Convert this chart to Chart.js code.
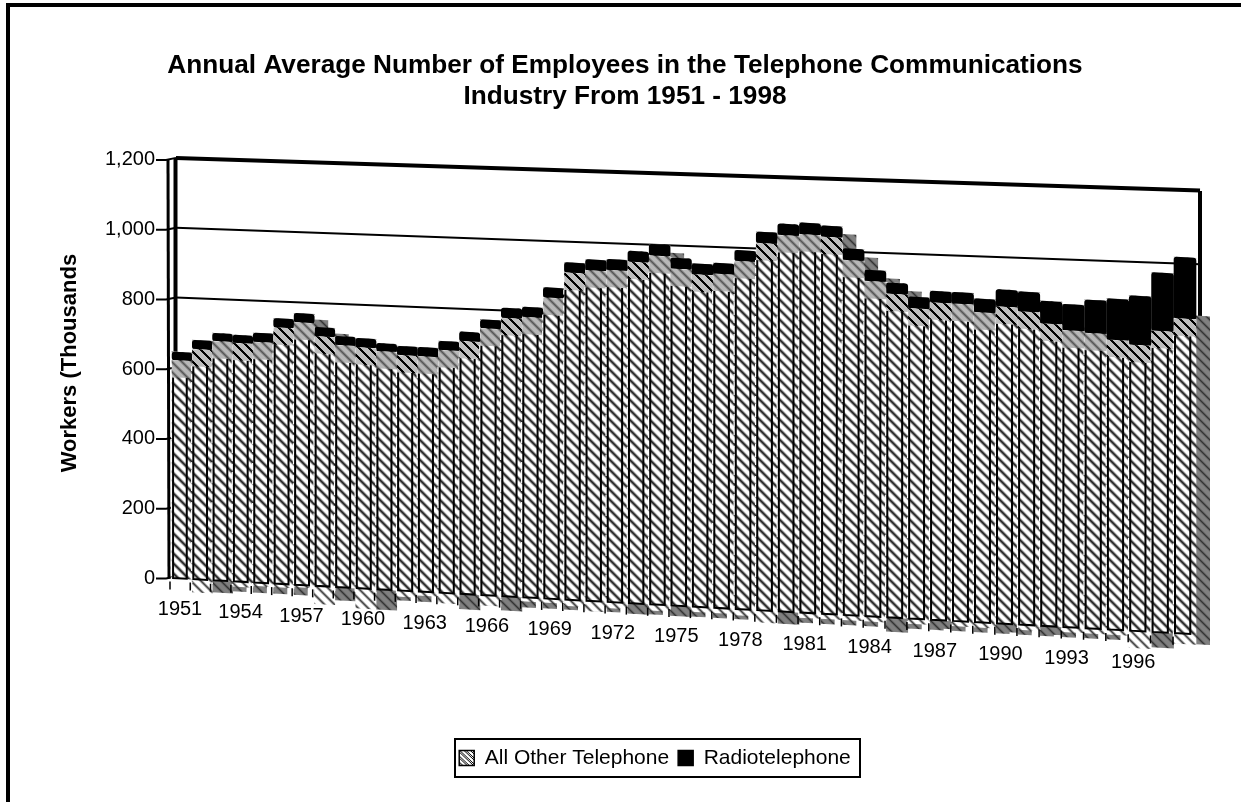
<!DOCTYPE html>
<html>
<head>
<meta charset="utf-8">
<title>Telephone Communications Employees</title>
<script src="https://cdn.jsdelivr.net/npm/chart.js@4"></script>
<style>
    body { margin: 0; background: #fff; }
    canvas { display: block; }
</style>
</head>
<body>
<canvas id="phoneChart" width="1241" height="802"></canvas>
<script>
const years = [1951, 1952, 1953, 1954, 1955, 1956, 1957, 1958, 1959, 1960, 1961, 1962, 1963, 1964, 1965, 1966,
    1967, 1968, 1969, 1970, 1971, 1972, 1973, 1974, 1975, 1976, 1977, 1978, 1979, 1980, 1981, 1982,
    1983, 1984, 1985, 1986, 1987, 1988, 1989, 1990, 1991, 1992, 1993, 1994, 1995, 1996, 1997, 1998];
const allOther = [624, 659, 685, 683, 689, 734, 752, 715, 693, 690, 682, 674, 674, 695, 724, 764,
    797, 803, 862, 937, 947, 951, 978, 999, 965, 952, 957, 997, 1052, 1078, 1084, 1080,
    1017, 960, 927, 889, 909, 909, 888, 908, 897, 866, 850, 846, 830, 819, 863, 902];
const radiotelephone = [24, 26, 23, 23, 26, 26, 26, 26, 26, 26, 23, 26, 26, 26, 27, 25,
    29, 29, 29, 29, 31, 31, 31, 33, 31, 31, 31, 31, 32, 33, 33, 32,
    33, 32, 32, 33, 33, 33, 39, 49, 57, 65, 75, 95, 118, 141, 167, 176];
// the floor slab that shows below the zero line, light and dark hatch
const floorLight = [0, -37, 0, -14, -9, -9, -6, -51, 0, -57, 0, -17, -11, -29, 0, -29,
    0, -11, -11, -17, -29, -17, 0, -17, 0, -14, -14, -17, -34, 0, -14, -14,
    -14, -14, 0, -14, 0, -14, -14, 0, -14, 0, -14, -14, -14, -48, 0, -29];
const floorDark = [0, 0, -34, 0, 0, 0, 0, 0, -37, 0, -57, 0, 0, 0, -43, 0,
    -40, 0, 0, 0, 0, 0, -29, 0, -29, 0, 0, 0, 0, -34, 0, 0,
    0, 0, -40, 0, -23, 0, 0, -23, 0, -23, 0, 0, 0, 0, -43, 0];
const tickLabels = [1951, 1954, 1957, 1960, 1963, 1966, 1969, 1972, 1975, 1978, 1981, 1984, 1987, 1990, 1993, 1996];

// years whose top face comes out light with black stripes
const lightCapYears = [1952, 1954, 1956, 1958, 1960, 1962, 1965, 1967, 1970, 1973, 1976, 1979, 1982, 1985,
    1986, 1987, 1990, 1991, 1992, 1995, 1996, 1997, 1998];

const plotLeft = 182;
const floorSlope = 0.055;   // front row of columns runs downhill
const capHeight = 17;

//* PIXEL PATTERNS
function makePattern(colors) {
    const size = colors.length;
    const tile = document.createElement('canvas');
    tile.width = size;
    tile.height = size;
    const tileCtx = tile.getContext('2d');
    for (let y = 0; y < size; y++) {
        for (let x = 0; x < size; x++) {
            tileCtx.fillStyle = colors[(x - y + size) % size];
            tileCtx.fillRect(x, y, 1, 1);
        }
    }
    const pattern = tileCtx.createPattern(tile, 'repeat');
    // cancel the shear so the stripes stay on the pixel grid
    pattern.setTransform(new DOMMatrix([1, -floorSlope, 0, 1, 0, floorSlope * plotLeft]));
    return pattern;
}

const bodyHatch = makePattern(['#222', '#555', '#a8a8a8', '#f0f0f0', '#fff', '#fff', '#fff', '#f0f0f0', '#a8a8a8', '#555']);
const capLight = makePattern(['#000', '#000', '#000', '#bdbdbd', '#bdbdbd', '#bdbdbd', '#bdbdbd', '#bdbdbd', '#bdbdbd', '#bdbdbd']);
const capDark = makePattern(['#555', '#777', '#9a9a9a', '#b8b8b8', '#b8b8b8', '#b8b8b8', '#b8b8b8', '#b8b8b8', '#9a9a9a', '#777']);
const sideHatch = makePattern(['#333', '#555', '#737373', '#808080', '#808080', '#808080', '#808080', '#808080', '#737373', '#555']);
const floorHatch = makePattern(['#444', '#7f7f7f', '#cfcfcf', '#fff', '#fff', '#fff', '#fff', '#fff', '#cfcfcf', '#7f7f7f']);
const legendSwatch = makePattern(['#000', '#fff', '#fff', '#fff', '#000', '#fff']);

function shear(ctx) {
    ctx.transform(1, floorSlope, 0, 1, 0, -floorSlope * plotLeft);
}

//* SCALE WHERE THE YEARS SPREAD OUT TOWARD THE VIEWER
class RecedingScale extends Chart.CategoryScale {
    getPixelForDecimal(decimal) {
        return super.getPixelForDecimal(decimal + 0.0526 * decimal * (decimal - 1));
    }
}
RecedingScale.id = 'receding';
RecedingScale.defaults = Chart.CategoryScale.defaults;
Chart.register(RecedingScale);

//* BACK WALL, SIDE FACES, TOP FACES, OUTLINES
const wallPlugin = {
    id: 'wall',
    beforeDraw(chart) {
        const ctx = chart.ctx;
        ctx.save();
        ctx.fillStyle = '#fff';
        ctx.fillRect(0, 0, chart.width, chart.height);
        ctx.fillStyle = '#000';
        ctx.fillRect(6, 3, chart.width - 6, 4);
        ctx.fillRect(6, 3, 4, chart.height - 3);
        ctx.restore();
    },
    afterLayout(chart) {
        // legend sits right of the title centre
        chart.legend.left += 30;
        chart.legend.right += 30;
    },
    beforeDatasetsDraw(chart) {
        const ctx = chart.ctx;
        const yScale = chart.scales.y;
        const wallLeft = 176;
        const wallRight = 1200;
        ctx.save();
        ctx.strokeStyle = '#000';
        yScale.ticks.forEach(tick => {
            const py = yScale.getPixelForValue(tick.value);
            const slope = floorSlope - (tick.value / 1200) * 0.0232;
            const isTop = tick.value === 1200;
            ctx.lineWidth = 2;
            ctx.beginPath();
            ctx.moveTo(156, py);
            ctx.lineTo(166, py);
            ctx.lineTo(wallLeft, py - 2);
            ctx.stroke();
            if (tick.value === 0) {
                return;
            }
            ctx.lineWidth = isTop ? 4 : 2;
            ctx.beginPath();
            ctx.moveTo(wallLeft, py - 2);
            ctx.lineTo(wallRight, py - 2 + slope * (wallRight - wallLeft));
            ctx.stroke();
        });
        // double upright at the left, single at the right
        const top = yScale.getPixelForValue(1200);
        const bottom = yScale.getPixelForValue(0);
        ctx.lineWidth = 3;
        ctx.beginPath();
        ctx.moveTo(168, top);
        ctx.lineTo(169, bottom);
        ctx.stroke();
        ctx.lineWidth = 4;
        ctx.beginPath();
        ctx.moveTo(175.5, top - 2);
        ctx.lineTo(175.5, bottom);
        ctx.moveTo(1200, top + 31);
        ctx.lineTo(1200, top + 170);
        ctx.stroke();

        shear(ctx);
        ctx.fillStyle = sideHatch;
        chart.getDatasetMeta(0).data.forEach(bar => {
            const right = bar.x + bar.width / 2;
            ctx.fillRect(right, bar.y - 4, 14, bar.base - bar.y + 14);
        });
        ctx.restore();

        ctx.save();
        shear(ctx);
    },
    afterDatasetsDraw(chart) {
        const ctx = chart.ctx;
        const bars = chart.getDatasetMeta(0).data;
        ctx.strokeStyle = '#000';
        bars.forEach((bar, i) => {
            const left = bar.x - bar.width / 2;
            const capBottom = bar.y + capHeight;
            // gap between outlines
            ctx.strokeStyle = '#fff';
            ctx.lineWidth = 1.5;
            ctx.setLineDash([5, 3]);
            ctx.beginPath();
            ctx.moveTo(left - 0.5, capBottom);
            ctx.lineTo(left - 0.5, bar.base + 4);
            ctx.stroke();
            ctx.setLineDash([]);
            // front face
            ctx.strokeStyle = '#000';
            ctx.lineWidth = 2;
            ctx.beginPath();
            ctx.moveTo(left + 1, capBottom);
            ctx.lineTo(left + 1, bar.base);
            ctx.lineTo(left + bar.width * 0.74, bar.base);
            ctx.lineTo(left + bar.width * 0.74, capBottom);
            ctx.stroke();
            // top face
            ctx.fillStyle = lightCapYears.includes(years[i]) ? capLight : capDark;
            ctx.fillRect(left, bar.y, bar.width, capHeight);
        });
        ctx.restore();

        // years and tick marks follow the sloping floor
        ctx.save();
        ctx.strokeStyle = '#000';
        ctx.fillStyle = '#000';
        ctx.lineWidth = 1.5;
        ctx.font = '20px "Liberation Sans"';
        ctx.textAlign = 'center';
        ctx.textBaseline = 'middle';
        const xScale = chart.scales.x;
        const yBase = chart.scales.y.getPixelForValue(0);
        years.forEach((year, i) => {
            const x = xScale.getPixelForValue(i);
            const floorY = yBase + floorSlope * (x - plotLeft);
            ctx.beginPath();
            ctx.moveTo(x - 12, floorY + 3);
            ctx.lineTo(x - 12, floorY + 11);
            ctx.stroke();
            if (tickLabels.includes(year)) {
                ctx.fillText(year, x - 2 - 5 * i / 45, floorY + 31);
            }
        });
        ctx.restore();

        // box round the legend
        const boxes = chart.legend.legendHitBoxes;
        ctx.save();
        ctx.strokeStyle = '#000';
        ctx.lineWidth = 2;
        ctx.strokeRect(455, boxes[0].top - 8.5, 405, 38);
        ctx.restore();
    }
};

const commonBar = {
    barThickness: 'flex',
    categoryPercentage: 1,
    barPercentage: 0.98,
    clip: false,
    borderWidth: 0
};

//* MAIN CHART
const phoneChart = new Chart(document.getElementById('phoneChart'), {
    type: 'bar',
    data: {
        labels: years,
        datasets: [
            { label: 'All Other Telephone', data: allOther, backgroundColor: bodyHatch, ...commonBar },
            { label: 'Radiotelephone', data: radiotelephone, backgroundColor: '#000', borderRadius: 3, borderSkipped: false, ...commonBar },
            { label: 'floor', data: floorLight, backgroundColor: floorHatch, ...commonBar },
            { label: 'floor dark', data: floorDark, backgroundColor: sideHatch, ...commonBar }
        ]
    },
    plugins: [wallPlugin],
    options: {
        responsive: false,
        animation: false,
        layout: { padding: { left: 65, right: 56, top: 0, bottom: 23.5 } },
        scales: {
            x: {
                type: 'receding',
                stacked: true,
                offset: false,
                grid: { display: false },
                border: { display: false },
                ticks: { display: false },
                afterFit(scale) { scale.height = 160; }
            },
            y: {
                stacked: true,
                min: 0,
                max: 1200,
                grid: { display: false },
                border: { display: false },
                afterFit(scale) { scale.width = 117; },
                title: {
                    display: true,
                    text: '  Workers (Thousands',   // leading spaces push it up the axis
                    color: '#000',
                    padding: { top: -8, bottom: 0 },
                    font: { family: '"Liberation Sans"', size: 22, weight: 'bold' }
                },
                ticks: {
                    stepSize: 200,
                    padding: 19,
                    color: '#000',
                    font: { family: '"Liberation Sans"', size: 20 },
                    callback: value => value.toLocaleString('en-US')
                }
            }
        },
        plugins: {
            tooltip: { enabled: false },
            title: {
                display: true,
                text: ['Annual Average Number of Employees in the Telephone Communications', 'Industry From 1951 - 1998'],
                color: '#000',
                padding: { top: 50, bottom: 47 },
                font: { family: '"Liberation Sans"', size: 26.2, weight: 'bold', lineHeight: 1.2 }
            },
            legend: {
                position: 'bottom',
                labels: {
                    color: '#000',
                    boxWidth: 15,
                    boxHeight: 15,
                    padding: 9,
                    font: { family: '"Liberation Sans"', size: 21 },
                    filter: item => item.datasetIndex < 2,
                    generateLabels(chart) {
                        const items = Chart.defaults.plugins.legend.labels.generateLabels(chart);
                        items.forEach(item => {
                            item.strokeStyle = '#000';
                            item.lineWidth = 1.5;
                            if (item.datasetIndex === 0) {
                                item.fillStyle = legendSwatch;
                            }
                        });
                        return items;
                    }
                }
            }
        }
    }
});
</script>
</body>
</html>
